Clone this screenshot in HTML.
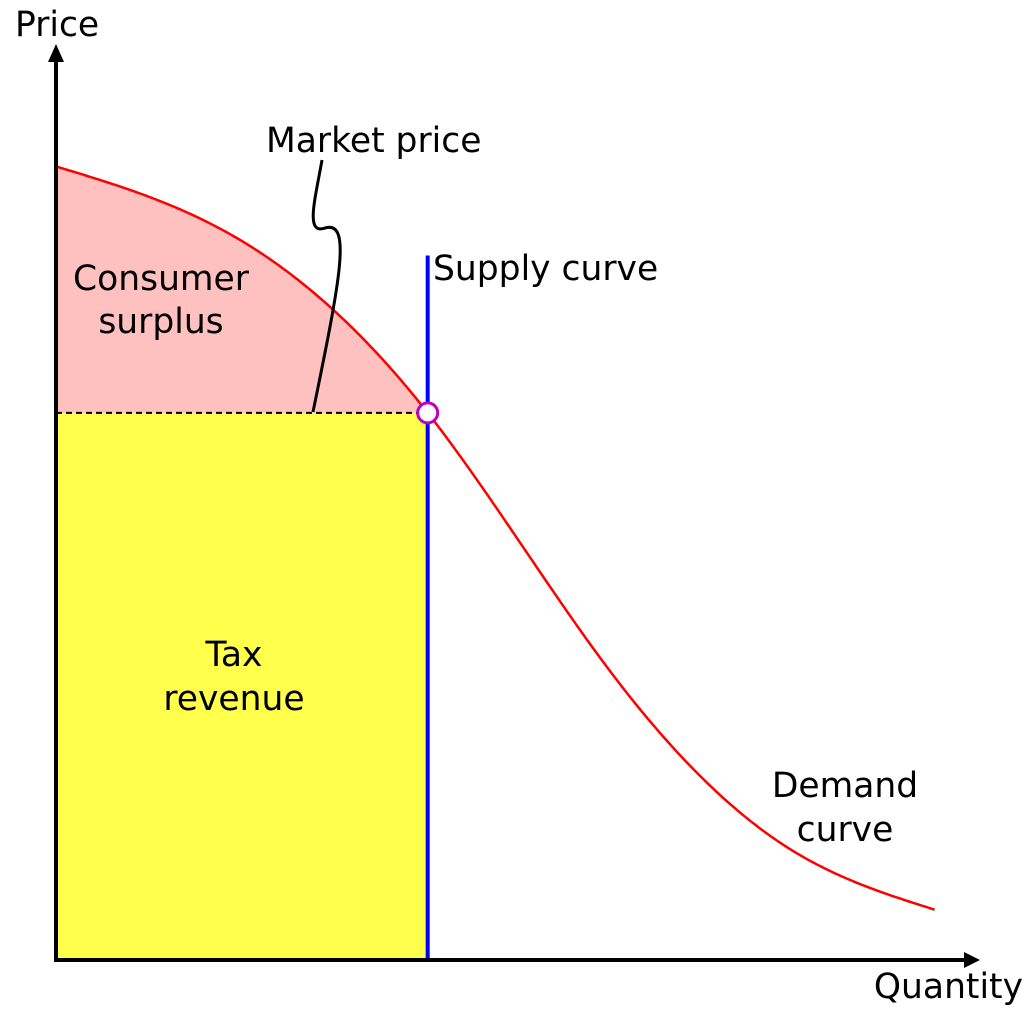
<!DOCTYPE html>
<html><head><meta charset="utf-8"><style>
html,body{margin:0;padding:0;background:#fff;}
svg{display:block;}
text{font-family:"DejaVu Sans","Liberation Sans",sans-serif;font-size:34.5px;fill:#000;}
</style></head><body>
<svg id="chart" width="1024" height="1024" viewBox="0 0 1024 1024">
<g id="fills"></g>
<g id="lines"></g>
<path d="M56,960 H966" stroke="#000" stroke-width="4" fill="none"/>
<path d="M980,960 L964,952 L964,968 Z" fill="#000"/>
<path d="M56,962 V58" stroke="#000" stroke-width="4" fill="none"/>
<path d="M56,44 L48,62 L64,62 Z" fill="#000"/>
<path d="M322,160 C315,200 305,235 325,228 C352,220 340,280 313,412" stroke="#000" stroke-width="3" fill="none"/>
<text x="15" y="36">Price</text>
<text x="1023" y="998" text-anchor="end">Quantity</text>
<text x="266" y="152">Market price</text>
<text x="433" y="280">Supply curve</text>
<text x="161" y="290" text-anchor="middle"><tspan x="161">Consumer</tspan><tspan x="161" dy="43">surplus</tspan></text>
<text x="234" y="666" text-anchor="middle"><tspan x="234">Tax</tspan><tspan x="234" dy="44">revenue</tspan></text>
<text x="845" y="797" text-anchor="middle"><tspan x="845">Demand</tspan><tspan x="845" dy="44">curve</tspan></text>
<g id="marks"></g>
</svg>
<script>
const demandQuantity = [0.1, 20.0, 40.4, 59.9, 79.5, 95.5];
const demandPrice = [86.7, 78.7, 59.8, 32.0, 12.3, 5.5];
const marketPrice = [59.8];
const supplyQuantity = [40.4];
const supplyTop = [77.0];

const NS = "http://www.w3.org/2000/svg";
function xS(v){return 56 + v*9.2;}
function yS(v){return 960 - v*9.15;}
function mk(tag, attrs, parent){
  const e = document.createElementNS(NS, tag);
  for (const k in attrs) e.setAttribute(k, attrs[k]);
  document.getElementById(parent).appendChild(e);
  return e;
}
// natural cubic spline through the demand points
const n = demandQuantity.length;
const h = [];
for (let i=0;i<n-1;i++) h.push(demandQuantity[i+1]-demandQuantity[i]);
const M = new Array(n).fill(0);
(function(){
  const a=[],b=[],c=[],r=[];
  for (let i=1;i<n-1;i++){
    a.push(h[i-1]); b.push(2*(h[i-1]+h[i])); c.push(h[i]);
    r.push(6*((demandPrice[i+1]-demandPrice[i])/h[i]-(demandPrice[i]-demandPrice[i-1])/h[i-1]));
  }
  const k=b.length;
  for (let i=1;i<k;i++){ const w=a[i]/b[i-1]; b[i]-=w*c[i-1]; r[i]-=w*r[i-1]; }
  const s=new Array(k);
  for (let i=k-1;i>=0;i--) s[i]=(r[i]-(i<k-1?c[i]*s[i+1]:0))/b[i];
  for (let i=0;i<k;i++) M[i+1]=s[i];
})();
function demandAt(q){
  let i = 0;
  while (i < n-2 && q > demandQuantity[i+1]) i++;
  const x0=demandQuantity[i], x1=demandQuantity[i+1], hi=h[i];
  const A=(x1-q)/hi, B=(q-x0)/hi;
  return A*demandPrice[i]+B*demandPrice[i+1]+((A*A*A-A)*M[i]+(B*B*B-B)*M[i+1])*hi*hi/6;
}
function curve(q0, q1){
  let d = "";
  const steps = 240;
  for (let k=0;k<=steps;k++){
    const q = q0 + (q1-q0)*k/steps;
    d += (k?" L":"M") + xS(q).toFixed(2) + "," + yS(demandAt(q)).toFixed(2);
  }
  return d;
}
const qE = supplyQuantity[0], pE = marketPrice[0];

const tax = mk("rect", {x:xS(0), y:yS(pE), width:xS(qE)-xS(0), height:yS(0)-yS(pE), fill:"#ffff4c"}, "fills");



const cs = mk("path", {d: curve(demandQuantity[0], qE) + " L"+xS(qE)+","+yS(pE)+" L"+xS(0)+","+yS(pE)+" L"+xS(0)+","+yS(demandPrice[0])+" Z", fill:"#ffc0c0"}, "fills");



const dash = mk("line", {x1:xS(0), y1:yS(pE), x2:xS(qE), y2:yS(pE), stroke:"#000", "stroke-width":2, "stroke-dasharray":"6,4"}, "lines");



const sup = mk("line", {x1:xS(qE), y1:yS(supplyTop[0]), x2:xS(qE), y2:yS(0), stroke:"#0000ff", "stroke-width":4}, "lines");



const dem = mk("path", {d: curve(demandQuantity[0], demandQuantity[n-1]), stroke:"#ff0000", "stroke-width":2.5, fill:"none"}, "lines");



const eq = mk("circle", {cx:xS(qE), cy:yS(pE), r:10, fill:"#fff", stroke:"#c000c0", "stroke-width":3}, "marks");


</script>
</body></html>
